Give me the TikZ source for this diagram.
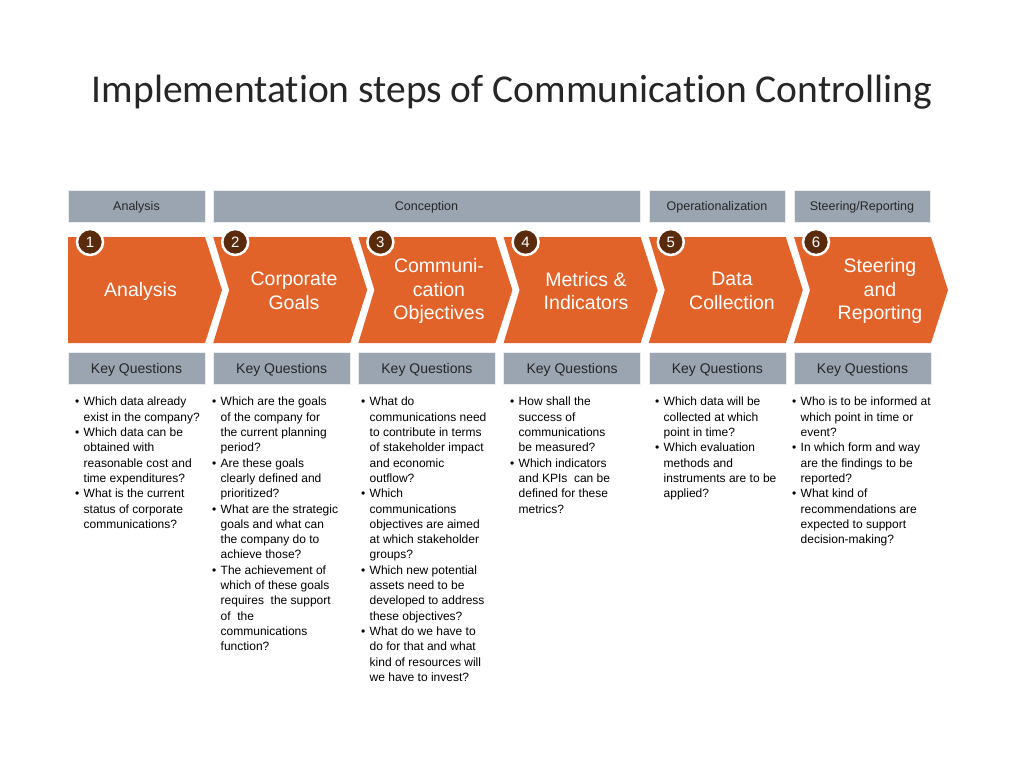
\documentclass[tikz,border=0pt]{standalone}
\usepackage{fontspec}
\setmainfont{Liberation Sans}
\newfontfamily\titlefont[Ligatures={NoCommon}]{Carlito}
\definecolor{orng}{HTML}{E2632A}
\definecolor{grayb}{HTML}{9BA5B1}
\definecolor{badgec}{HTML}{5A2A0C}
\newcommand{\bu}{\makebox[8.5pt][l]{\textbullet}}
\newcommand{\ct}{\hspace*{8.5pt}}
\begin{document}
\begin{tikzpicture}[x=1pt,y=-1pt,
  hdr/.style={fill=grayb, draw=white!80!grayb, line width=0.6pt, minimum height=32pt, inner sep=0pt,
    text depth=0pt, font=\fontsize{12.5}{14}\selectfont, text=black!85},
  kq/.style={fill=grayb, draw=white!80!grayb, line width=0.6pt, minimum width=137pt, minimum height=32pt, inner sep=0pt,
    text depth=0pt, font=\fontsize{14}{16}\selectfont, text=black!85},
  badgest/.style={circle, fill=badgec, draw=white, line width=2.5pt, minimum size=26pt, inner sep=0pt,
    text=white, font=\fontsize{15}{16}\selectfont},
  chevtext/.style={text=white, align=center, font=\fontsize{19.5}{23.5}\selectfont, inner sep=0pt},
  qtext/.style={anchor=north west, align=left, inner sep=0pt, font=\fontsize{12}{15.3}\selectfont, text=black}
]
\fill[white] (0,0) rectangle (1024,768);
\useasboundingbox (0,0) rectangle (1024,768);

% title
\node[font=\titlefont\fontsize{39.5}{44}\selectfont, text=black!85] (title) at (512,92) {Implementation steps of Communication Controlling};

% phase headers
\node[hdr, minimum width=137pt] (h1) at (136.5,206) {Analysis};
\node[hdr, minimum width=427pt] (h2) at (426.5,206) {Conception};
\node[hdr, minimum width=136pt] (h3) at (717,206) {Operationalization};
\node[hdr, minimum width=136pt] (h4) at (862,206) {Steering/Reporting};

% chevrons
\fill[orng] (68,237) -- (205,237) -- (222,290) -- (205,343) -- (68,343) -- cycle;
\foreach \i in {2,...,6} {
  \pgfmathsetmacro\xo{68+145.2*(\i-1)}
  \fill[orng] (\xo,237) -- (\xo+137,237) -- (\xo+154,290) -- (\xo+137,343) -- (\xo,343) -- (\xo+16,290) -- cycle;
}
\foreach \i in {1,...,6} {
  \pgfmathsetmacro\xo{68+145.2*(\i-1)}
  \node[badgest] (b\i) at (\xo+22,242) {\i};
  \node[kq] (k\i) at (\xo+68.5,368) {Key Questions};
}

\node[chevtext] (c1) at (140.5,291) {Analysis};
\node[chevtext] (c2) at (294,291) {Corporate\\Goals};
\node[chevtext] (c3) at (439,291) {Communi-\\cation\\Objectives};
\node[chevtext] (c4) at (586,291) {Metrics \&\\Indicators};
\node[chevtext] (c5) at (732,291) {Data\\Collection};
\node[chevtext] (c6) at (880,291) {Steering\\and\\Reporting};

% key questions text
\node[qtext] (q1) at (75,397) {\bu Which data already\\ \ct exist in the company?\\ \bu Which data can be\\ \ct obtained with\\ \ct reasonable cost and\\ \ct time expenditures?\\ \bu What is the current\\ \ct status of corporate\\ \ct communications?};

\node[qtext] (q2) at (212,397) {\bu Which are the goals\\ \ct of the company for\\ \ct the current planning\\ \ct period?\\ \bu Are these goals\\ \ct clearly defined and\\ \ct prioritized?\\ \bu What are the strategic\\ \ct goals and what can\\ \ct the company do to\\ \ct achieve those?\\ \bu The achievement of\\ \ct which of these goals\\ \ct requires\ \ the support\\ \ct of\ \ the\\ \ct communications\\ \ct function?};

\node[qtext] (q3) at (361,397) {\bu What do\\ \ct communications need\\ \ct to contribute in terms\\ \ct of stakeholder impact\\ \ct and economic\\ \ct outflow?\\ \bu Which\\ \ct communications\\ \ct objectives are aimed\\ \ct at which stakeholder\\ \ct groups?\\ \bu Which new potential\\ \ct assets need to be\\ \ct developed to address\\ \ct these objectives?\\ \bu What do we have to\\ \ct do for that and what\\ \ct kind of resources will\\ \ct we have to invest?};

\node[qtext] (q4) at (510,397) {\bu How shall the\\ \ct success of\\ \ct communications\\ \ct be measured?\\ \bu Which indicators\\ \ct and KPIs\ \ can be\\ \ct defined for these\\ \ct metrics?};

\node[qtext] (q5) at (655,397) {\bu Which data will be\\ \ct collected at which\\ \ct point in time?\\ \bu Which evaluation\\ \ct methods and\\ \ct instruments are to be\\ \ct applied?};

\node[qtext] (q6) at (792,397) {\bu Who is to be informed at\\ \ct which point in time or\\ \ct event?\\ \bu In which form and way\\ \ct are the findings to be\\ \ct reported?\\ \bu What kind of\\ \ct recommendations are\\ \ct expected to support\\ \ct decision-making?};
\end{tikzpicture}
\end{document}
